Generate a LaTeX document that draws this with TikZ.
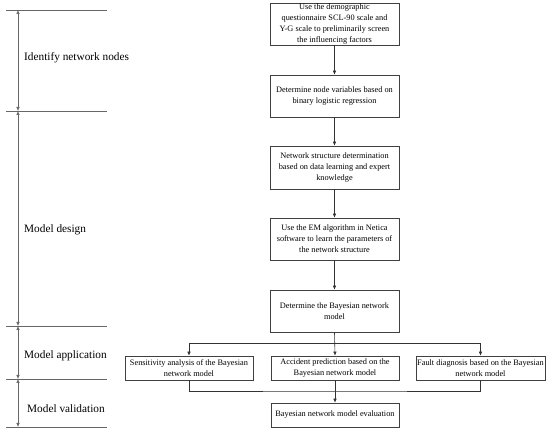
\documentclass[tikz,border=0pt]{standalone}
\usepackage{fontspec}
\setmainfont{Liberation Serif}
\usetikzlibrary{arrows.meta}
\begin{document}
\begin{tikzpicture}[x=1pt,y=-1pt,
  box/.style={draw=black!75,line width=0.6pt,align=center,font=\fontsize{8.3}{11}\selectfont,inner sep=0pt},
  conn/.style={draw=black!80,line width=0.6pt,-{Latex[length=4pt,width=3.5pt]}},
  sep/.style={draw=black!60,line width=0.6pt},
  dim/.style={draw=black!60,line width=0.6pt,{Latex[length=4pt,width=3.5pt]}-{Latex[length=4pt,width=3.5pt]}},
  lab/.style={anchor=west,font=\fontsize{11.3}{13}\selectfont,inner sep=0pt}]
\useasboundingbox (0,0) rectangle (550,430);
% boxes
\node[box,minimum width=129pt,minimum height=42pt] (b1) at (334.5,24) {Use the demographic\\questionnaire SCL-90 scale and\\Y-G scale to preliminarily screen\\the influencing factors};
\node[box,minimum width=129pt,minimum height=42pt] (b2) at (334.5,96) {Determine node variables based on\\binary logistic regression};
\node[box,minimum width=129pt,minimum height=43pt] (b3) at (334.5,167.5) {Network structure determination\\based on data learning and expert\\knowledge};
\node[box,minimum width=129pt,minimum height=42pt] (b4) at (334.5,239) {Use the EM algorithm in Netica\\software to learn the parameters of\\the network structure};
\node[box,minimum width=129pt,minimum height=42pt] (b5) at (334.5,311) {Determine the Bayesian network\\model};
\node[box,minimum width=128pt,minimum height=24pt] (l) at (189,368) {Sensitivity analysis of the Bayesian\\network model};
\node[box,minimum width=128pt,minimum height=24pt] (m) at (335,368) {Accident prediction based on the\\Bayesian network model};
\node[box,minimum width=129pt,minimum height=24pt] (r) at (480.5,368) {Fault diagnosis based on the Bayesian\\network model};
\node[box,minimum width=128pt,minimum height=24pt] (e) at (335,415) {Bayesian network model evaluation};
% connectors
\draw[conn] (b1) -- (b2);
\draw[conn] (b2) -- (b3);
\draw[conn] (b3) -- (b4);
\draw[conn] (b4) -- (b5);
\coordinate (br) at (335,343);
\draw[conn] (b5.south) -- (m.north);
\draw[conn] (br) -| (l.north);
\draw[conn] (br) -| (r.north);
\coordinate (mg) at (335,391);
\draw[sep,draw=black!80] (l.south) |- (mg) -| (r.south);
\draw[conn] (m.south) -- (e.north);
% left scale
\coordinate (t0) at (18,10);
\coordinate (t1) at (18,111);
\coordinate (t2) at (18,326);
\coordinate (t3) at (18,379);
\coordinate (t4) at (18,427);
\draw[sep] (6,10) -- (107,10);
\draw[sep] (6,111) -- (107,111);
\draw[sep] (6,326) -- (107,326);
\draw[sep] (6,379) -- (107,379);
\draw[sep] (6,427) -- (107,427);
\draw[dim] (t0) -- (t1);
\draw[dim] (t1) -- (t2);
\draw[dim] (t2) -- (t3);
\draw[dim] (t3) -- (t4);
\node[lab] (n1) at (24,58) {Identify network nodes};
\node[lab] (n2) at (24,230) {Model design};
\node[lab] (n3) at (24,356) {Model application};
\node[lab] (n4) at (27,409) {Model validation};
\end{tikzpicture}
\end{document}
